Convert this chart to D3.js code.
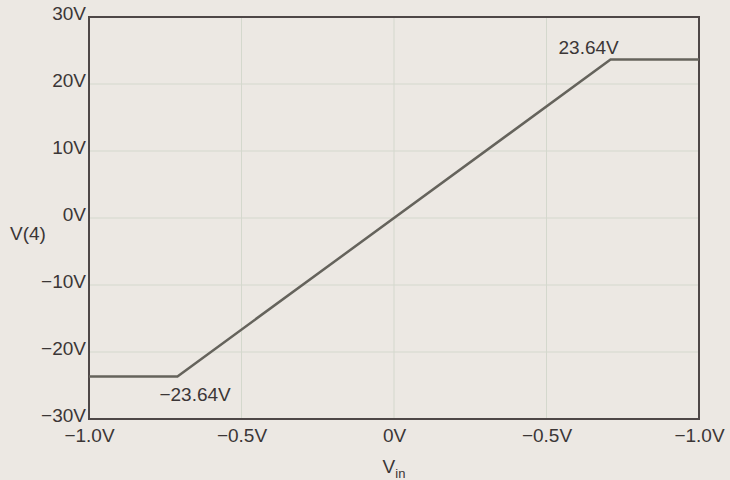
<!DOCTYPE html>
<html><head><meta charset="utf-8">
<script src="https://cdn.jsdelivr.net/npm/d3@7"></script>
<style>
html,body{margin:0;padding:0;background:#ece8e3;}
svg{display:block;}
text{font-family:"Liberation Sans",Arial,sans-serif;fill:#3b3636;}
</style></head>
<body><svg id="c" width="730" height="480"></svg>
<script>
// Transfer characteristic: V(4) vs Vin
const vin = [-1.0, -0.71, 0.71, 1.0];
const v4 = [-23.64, -23.64, 23.64, 23.64];
const xTicks = [-1.0, -0.5, 0, 0.5, 1.0];
const xTickLabels = ["\u22121.0V", "\u22120.5V", "0V", "\u22120.5V", "\u22121.0V"];
const yTicks = [-30, -20, -10, 0, 10, 20, 30];
const yTickLabels = ["\u221230V", "\u221220V", "\u221210V", "0V", "10V", "20V", "30V"];
const annotations = [
  {x: -0.71, y: -23.64, text: "\u221223.64V", pos: "below"},
  {x: 0.71, y: 23.64, text: "23.64V", pos: "above"}
];

const svg = d3.select("#c");
const m = {l: 89, r: 699, t: 17, b: 419};
const x = d3.scaleLinear().domain([-1, 1]).range([m.l, m.r]);
const y = d3.scaleLinear().domain([-30, 30]).range([m.b, m.t]);
const FS = 19;

// grid
svg.append("g").selectAll("line").data(xTicks.slice(1, -1)).join("line")
  .attr("x1", d => x(d)).attr("x2", d => x(d)).attr("y1", m.t).attr("y2", m.b)
  .attr("stroke", "#d4d8cd").attr("stroke-width", 1);
svg.append("g").selectAll("line").data(yTicks.slice(1, -1)).join("line")
  .attr("y1", d => y(d)).attr("y2", d => y(d)).attr("x1", m.l).attr("x2", m.r)
  .attr("stroke", "#d4d8cd").attr("stroke-width", 1);

// axes (labels via d3 axes)
const xAxis = d3.axisBottom(x).tickValues(xTicks).tickSize(0).tickPadding(0)
  .tickFormat((d, i) => xTickLabels[i]);
const gx = svg.append("g").attr("transform", `translate(0,${m.b})`).call(xAxis);
gx.select(".domain").remove();
gx.selectAll("text").attr("font-size", FS).attr("dy", null).attr("y", 23)
  .attr("font-family", "Liberation Sans, Arial, sans-serif").attr("fill", "#3b3636");

const yAxis = d3.axisLeft(y).tickValues(yTicks).tickSize(0).tickPadding(3)
  .tickFormat((d, i) => yTickLabels[i]);
const gy = svg.append("g").attr("transform", `translate(${m.l},0)`).call(yAxis);
gy.select(".domain").remove();
gy.selectAll("text").attr("font-size", FS).attr("dy", "0.12em")
  .attr("font-family", "Liberation Sans, Arial, sans-serif").attr("fill", "#3b3636");

// frame
svg.append("rect").attr("x", m.l).attr("y", m.t).attr("width", m.r - m.l).attr("height", m.b - m.t)
  .attr("fill", "none").attr("stroke", "#4e4747").attr("stroke-width", 2);

// data line
const line = d3.line().x(d => x(d[0])).y(d => y(d[1]));
svg.append("path").datum(vin.map((v, i) => [v, v4[i]]))
  .attr("d", line).attr("fill", "none").attr("stroke", "#65635c").attr("stroke-width", 2.5);

// annotations
svg.selectAll(".ann").data(annotations).join("text").attr("class", "ann")
  .attr("x", d => x(d.x) + (d.pos === "below" ? -18 : -52))
  .attr("y", d => y(d.y) + (d.pos === "below" ? 25 : -6))
  .attr("font-size", FS).text(d => d.text);

// axis titles
svg.append("text").attr("x", 10).attr("y", 240).attr("font-size", FS).text("V(4)");
const t = svg.append("text").attr("x", 394).attr("y", 473).attr("text-anchor", "middle").attr("font-size", FS);
t.append("tspan").text("V");
t.append("tspan").attr("dy", 5).attr("font-size", 13).text("in");
</script></body></html>
